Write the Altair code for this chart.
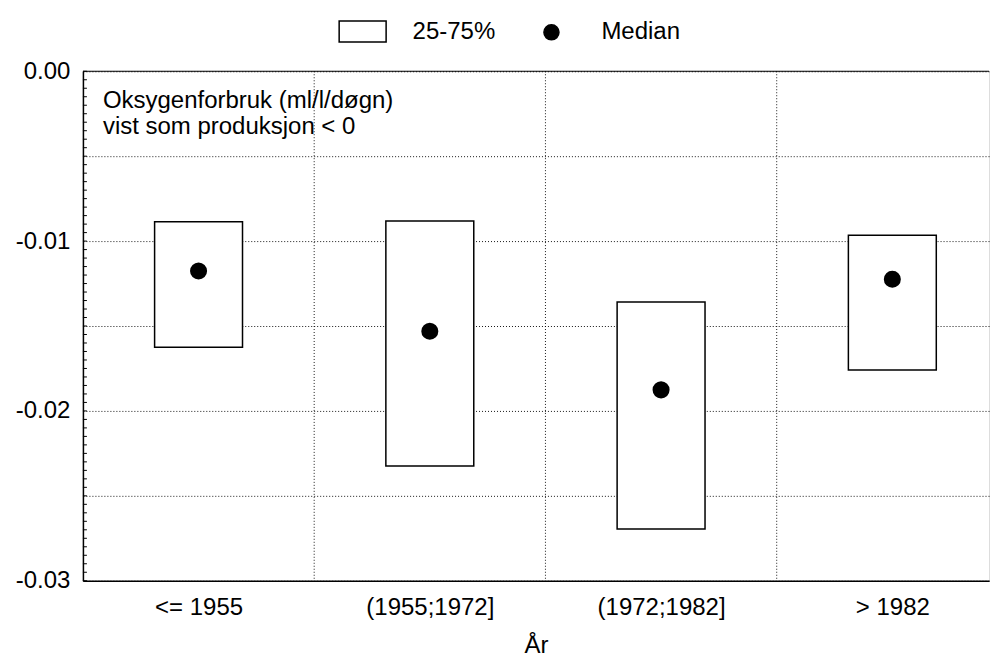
import altair as alt
import pandas as pd

# ---- data ----
categories = ["<= 1955", "(1955;1972]", "(1972;1982]", "> 1982"]
q25 = [-0.01625, -0.02325, -0.02696, -0.01759]
q75 = [-0.00886, -0.00882, -0.01359, -0.00965]
median = [-0.01176, -0.01531, -0.01876, -0.01225]

legend_labels = ["25-75%", "Median"]
note_lines = ["Oksygenforbruk (ml/l/døgn)", "vist som produksjon < 0"]
x_title = "År"

y_ticks = [0.0, -0.005, -0.01, -0.015, -0.02, -0.025, -0.03]
minor_ticks = [round(-0.0005 * i, 4) for i in range(61)]
boundaries = [0.5, 1.5, 2.5]

FONT = "Liberation Sans"

df = pd.DataFrame({
    "category": categories,
    "pos": list(range(len(categories))),
    "q25": q25,
    "q75": q75,
    "median": median,
})

x_scale = alt.Scale(domain=[-0.5, 3.418], nice=False, zero=False, padding=0)
y_scale = alt.Scale(domain=[-0.03, 0.0], nice=False, zero=False, padding=0)

label_expr = "[" + ",".join("'" + c + "'" for c in categories) + "][datum.value]"

fill_scale = alt.Scale(domain=legend_labels, range=["white", "black"])
shape_scale = alt.Scale(domain=legend_labels,
                        range=["M-3.12,-1.39H3.12V1.39H-3.12Z", "circle"])

legend = alt.Legend(
    orient="none", legendX=268, legendY=-52, direction="horizontal",
    title=None, labelFontSize=24, labelFont=FONT, labelColor="black",
    symbolSize=227, symbolStrokeWidth=1.5, symbolStrokeColor="black",
    labelOffset=38, columnPadding=44, padding=0,
)

base = alt.Chart(df)

boxes = base.transform_calculate(kind="'25-75%'").mark_bar(
    size=88, stroke="black", strokeWidth=1.5, orient="vertical"
).encode(
    x=alt.X("pos:Q", scale=x_scale, axis=alt.Axis(
        values=[0, 1, 2, 3], labelExpr=label_expr, grid=False, ticks=False,
        domainColor="black", domainWidth=1.5, labelFontSize=24, labelFont=FONT,
        labelColor="black", labelPadding=15, title=x_title, titleFontSize=24,
        titleFont=FONT, titleFontWeight="normal", titleColor="black", titlePadding=14)),
    y=alt.Y("q25:Q", scale=y_scale, axis=alt.Axis(
        values=y_ticks,
        labelExpr="abs(round(datum.value*1000)) % 10 == 0 ? replace(format(datum.value, '.2f'), '\u2212', '-') : ''",
        grid=True, gridDash=[1, 2], gridColor="black", gridOpacity=0.9, ticks=False,
        domainColor="black", domainWidth=1.5, labelFontSize=24, labelFont=FONT,
        labelColor="black", labelPadding=13, title=None)),
    y2="q75:Q",
    fill=alt.Fill("kind:N", scale=fill_scale, legend=legend),
)

medians = base.transform_calculate(kind="'Median'").mark_point(
    filled=True, size=227, stroke="black", opacity=1
).encode(
    x=alt.X("pos:Q", scale=x_scale),
    y=alt.Y("median:Q", scale=y_scale),
    fill=alt.Fill("kind:N", scale=fill_scale, legend=legend),
    shape=alt.Shape("kind:N", scale=shape_scale, legend=legend),
)

vgrid = alt.Chart(pd.DataFrame({"b": boundaries})).mark_rule(
    color="black", strokeDash=[1, 2], opacity=0.9
).encode(x=alt.X("b:Q", scale=x_scale))

top_rule = alt.Chart(pd.DataFrame({"v": [0.0]})).mark_rule(
    color="black", strokeWidth=1.2
).encode(y=alt.Y("v:Q", scale=y_scale))

minor = alt.Chart(pd.DataFrame({"t": minor_ticks})).mark_rule(
    color="black", strokeWidth=1
).encode(y=alt.Y("t:Q", scale=y_scale), x=alt.value(0), x2=alt.value(4))

note = alt.Chart(pd.DataFrame({"a": [0]})).mark_text(
    text=note_lines, align="left", baseline="alphabetic", fontSize=24,
    font=FONT, color="black", lineHeight=26
).encode(x=alt.value(20), y=alt.value(37))

chart = alt.layer(vgrid, top_rule, minor, boxes, medians, note).properties(
    width=907, height=510,
    padding={"left": 7, "top": 11, "right": 0, "bottom": 0},
).configure_view(stroke=None).configure(font=FONT)

chart.save("out.html", embed_options={"renderer": "svg", "actions": False})
